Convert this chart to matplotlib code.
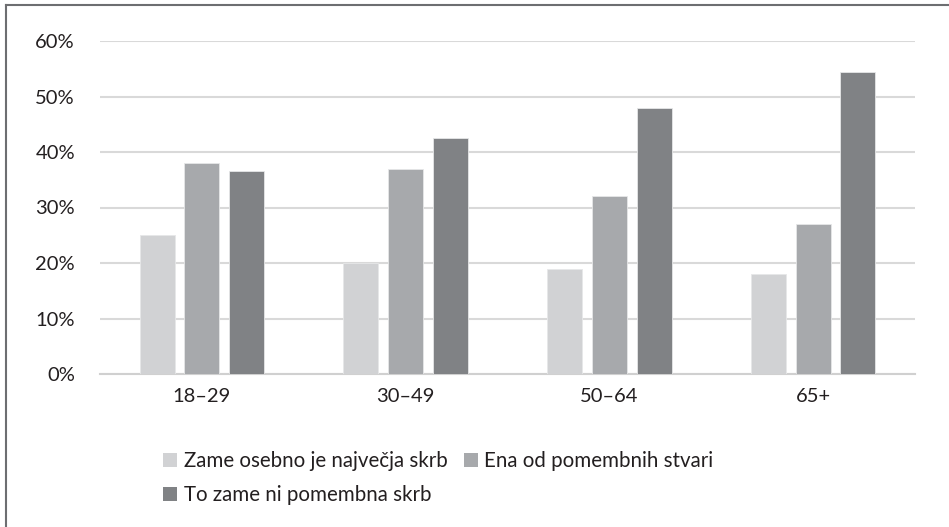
import matplotlib
matplotlib.use("Agg")
import matplotlib.pyplot as plt
from matplotlib.patches import Patch
from matplotlib.lines import Line2D
import numpy as np

categories = ["18–29", "30–49", "50–64", "65+"]
series_names = ["Zame osebno je največja skrb", "Ena od pomembnih stvari", "To zame ni pomembna skrb"]
s1 = [25, 20, 19, 18]
s2 = [38, 37, 32, 27]
s3 = [36.5, 42.6, 48, 54.5]
colors = ["#d1d2d4", "#a7a9ac", "#808285"]
yticks = [0, 10, 20, 30, 40, 50, 60]
ytick_labels = ["0%", "10%", "20%", "30%", "40%", "50%", "60%"]

plt.rcParams['font.family'] = ['Lato', 'DejaVu Sans']
W, H = 949, 527
fig = plt.figure(figsize=(W / 100, H / 100), dpi=100)
ax = fig.add_axes([100 / W, 1 - 374 / H, 815 / W, 333 / H])

x = np.arange(len(categories))
bw = 0.172
step = 0.22
for i, (vals, c) in enumerate(zip([s1, s2, s3], colors)):
    ax.bar(x + (i - 1) * step, vals, bw, color=c, edgecolor="#e6e7e8", linewidth=0.6, zorder=3,
           label=series_names[i])

ax.set_xlim(-0.5, 3.5)
ax.set_ylim(0, 60)
ax.set_yticks(yticks)
ax.set_yticklabels(ytick_labels)
ax.set_xticks(x)
ax.set_xticklabels(categories)
ax.tick_params(axis='both', length=0, labelsize=14.5, colors="#231f20")
ax.tick_params(axis='y', pad=18)
ax.tick_params(axis='x', pad=10)
ax.grid(axis='y', color="#d9d9d9", linewidth=1.5, zorder=0)
ax.set_axisbelow(True)
for s in ["top", "right", "left"]:
    ax.spines[s].set_visible(False)
ax.spines["bottom"].set_color("#d0d0d0")
ax.spines["bottom"].set_linewidth(1.5)

handles = [Patch(facecolor=c, edgecolor="none") for c in colors]
order = [0, 2, 1]
leg = fig.legend([handles[i] for i in order], [series_names[i] for i in order],
                 ncol=2, loc="upper left", bbox_to_anchor=(163 / W, 1 - 451 / H),
                 frameon=False, fontsize=14.8, handlelength=0.7, handleheight=0.7,
                 handletextpad=0.3, columnspacing=0.8, labelspacing=0.7, borderaxespad=0,
                 borderpad=0)
for t in leg.get_texts():
    t.set_color("#231f20")

# figure border (left and top)
fig.add_artist(Line2D([6 / W, 6 / W], [0, 1 - 5 / H], transform=fig.transFigure,
                      color="#6d6e71", linewidth=1.5))
fig.add_artist(Line2D([6 / W, 1], [1 - 5 / H, 1 - 5 / H], transform=fig.transFigure,
                      color="#6d6e71", linewidth=1.5))

fig.savefig("out.png", dpi=100)
